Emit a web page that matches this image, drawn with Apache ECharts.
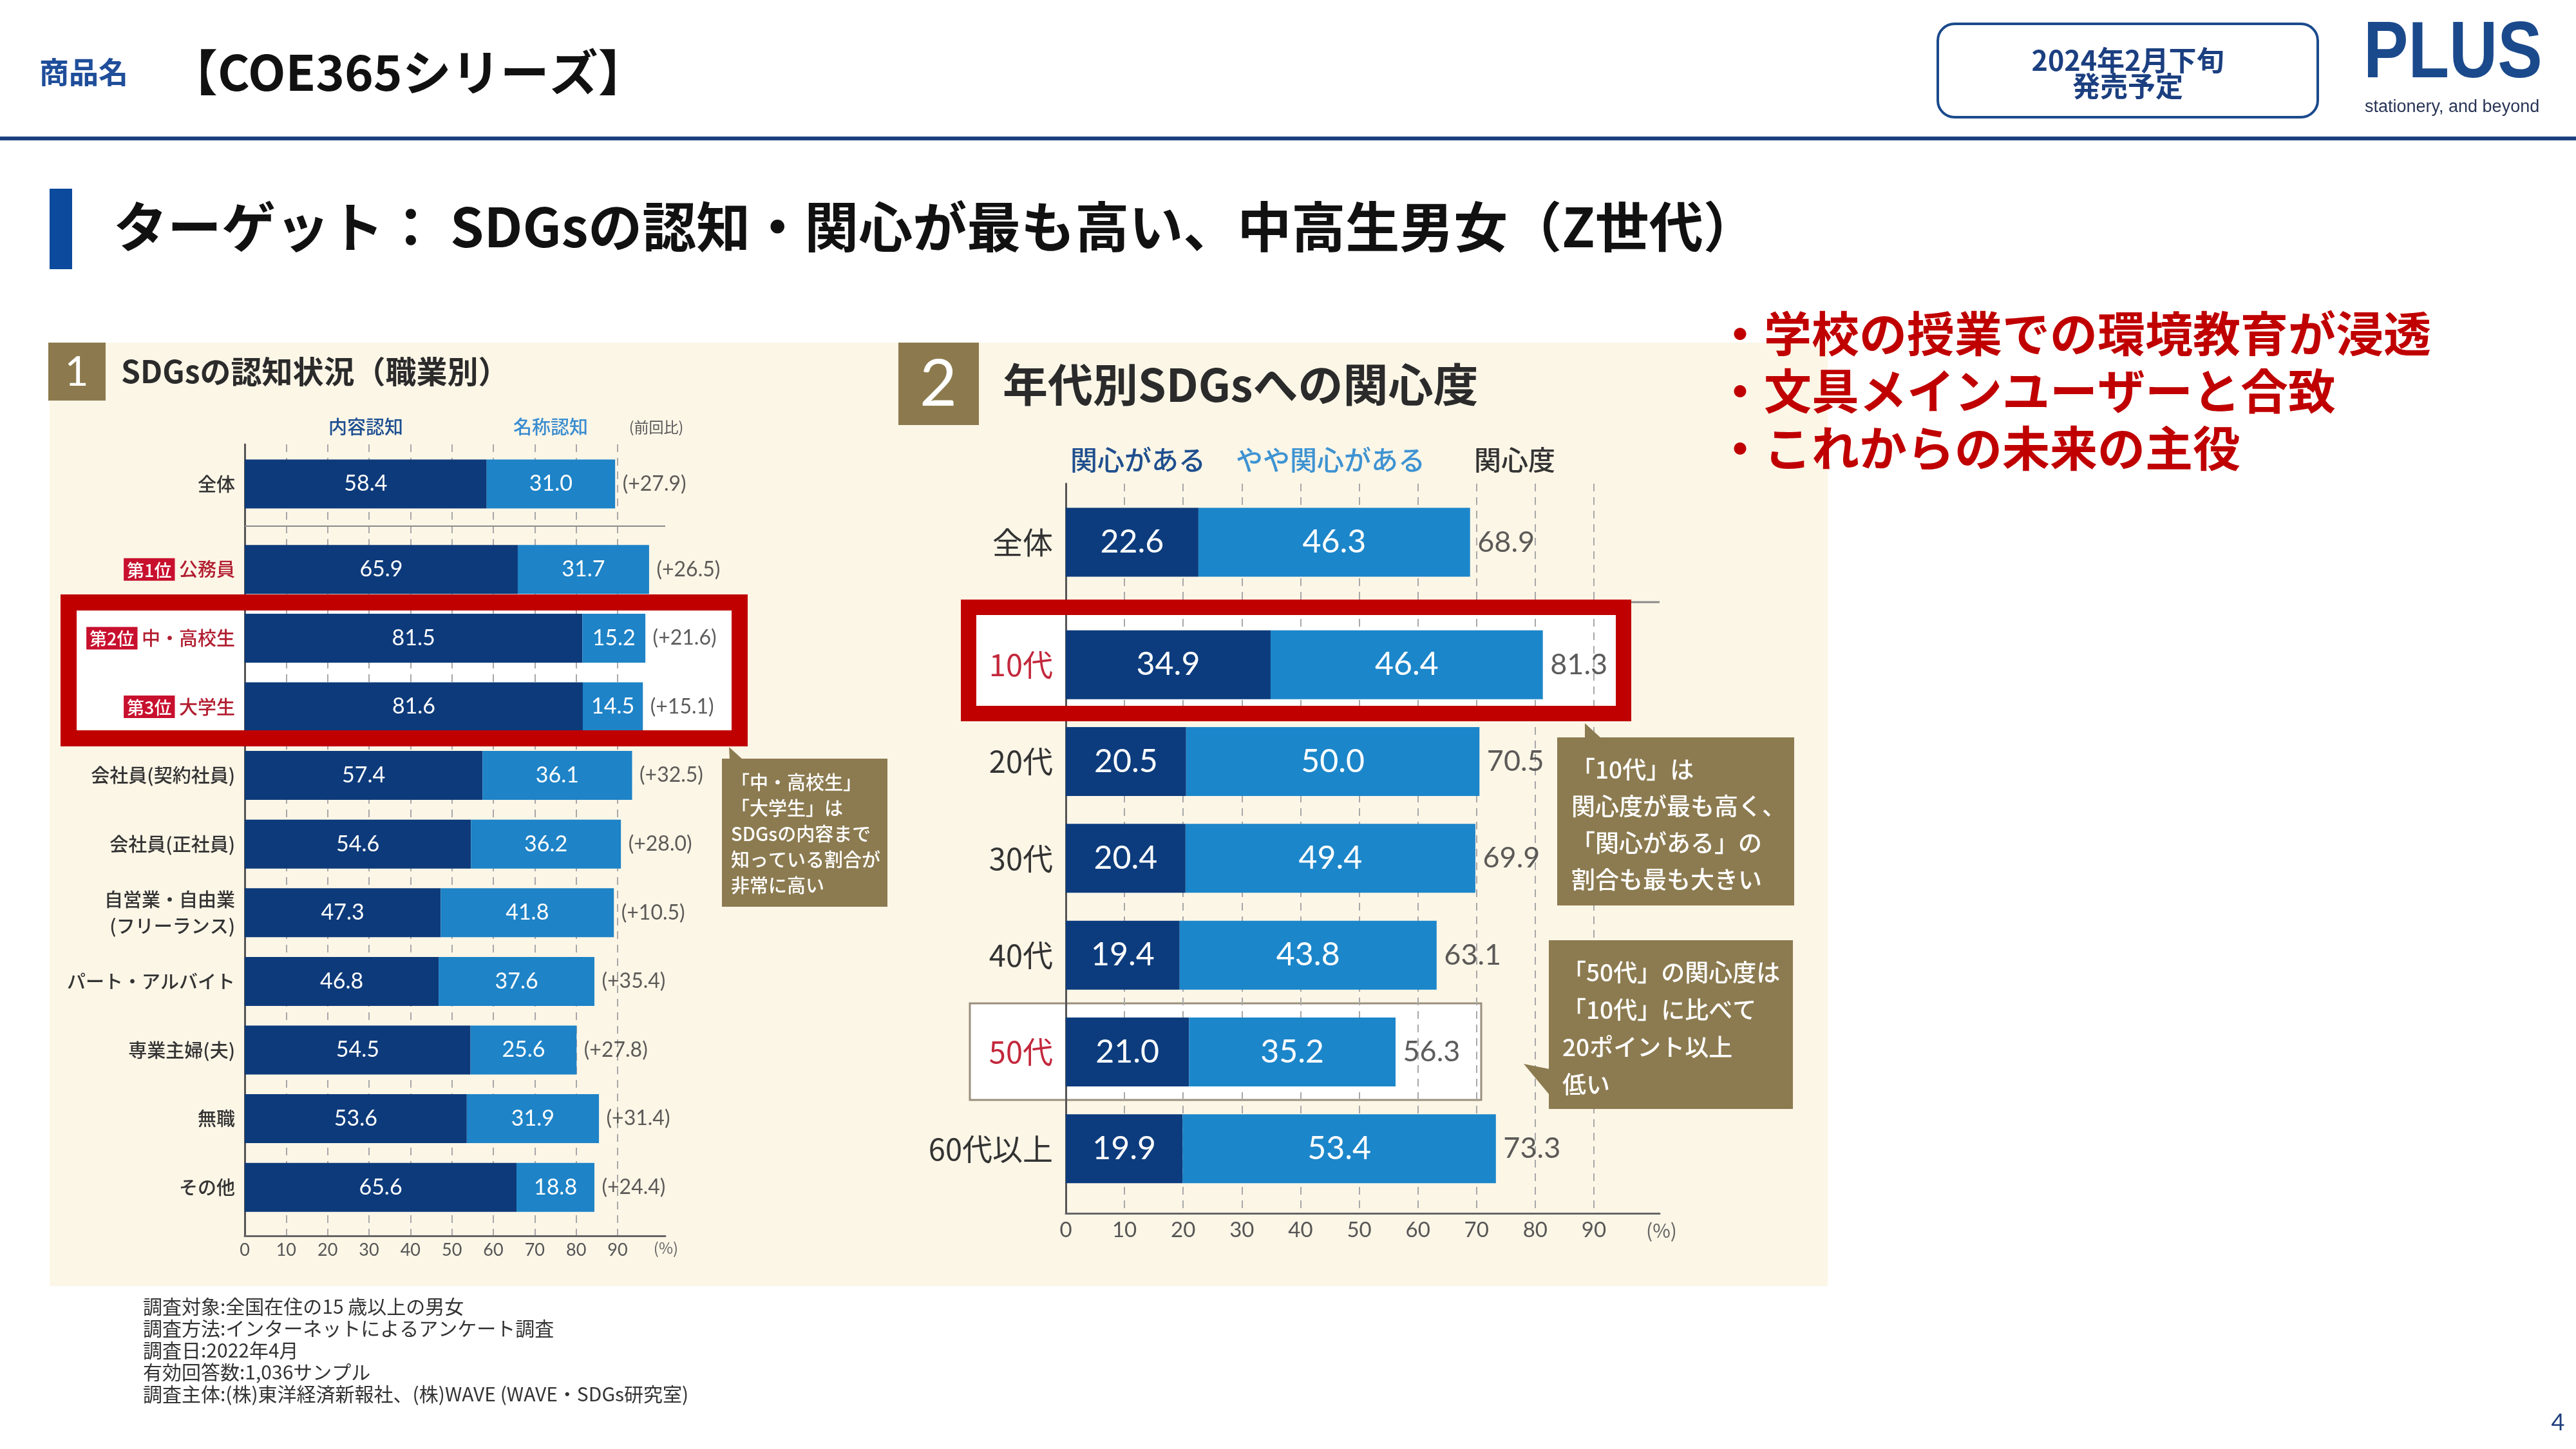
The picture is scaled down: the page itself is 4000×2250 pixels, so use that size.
<!DOCTYPE html>
<html><head><meta charset="utf-8">
<script src="https://cdn.jsdelivr.net/npm/echarts@6/dist/echarts.min.js"></script>
<style>html,body{margin:0;padding:0;background:#fff}#c{width:4000px;height:2250px}</style>
</head><body><div id="c"></div>
<script>
// ---------- data ----------
const jobCategories = ['全体','公務員','中・高校生','大学生','会社員(契約社員)','会社員(正社員)','自営業・自由業\n(フリーランス)','パート・アルバイト','専業主婦(夫)','無職','その他'];
const jobRanks = ['','第1位','第2位','第3位','','','','','','',''];
const contentAware = [58.4, 65.9, 81.5, 81.6, 57.4, 54.6, 47.3, 46.8, 54.5, 53.6, 65.6];
const nameAware = [31.0, 31.7, 15.2, 14.5, 36.1, 36.2, 41.8, 37.6, 25.6, 31.9, 18.8];
const prevDiff = ['+27.9','+26.5','+21.6','+15.1','+32.5','+28.0','+10.5','+35.4','+27.8','+31.4','+24.4'];

const ageCategories = ['全体','10代','20代','30代','40代','50代','60代以上'];
const interested = [22.6, 34.9, 20.5, 20.4, 19.4, 21.0, 19.9];
const somewhatInterested = [46.3, 46.4, 50.0, 49.4, 43.8, 35.2, 53.4];
const interestLevel = [68.9, 81.3, 70.5, 69.9, 63.1, 56.3, 73.3];
const highlightAges = ['10代','50代'];

const axisTicks = [0,10,20,30,40,50,60,70,80,90];

// ---------- style ----------
const FJP = "'Noto Sans CJK JP', sans-serif";
const FNUM = "Lato, 'Noto Sans CJK JP', sans-serif";
const DARK = '#0d3a7a', LIGHT = '#1e83c7';
const DARK2 = '#0c3c7d', LIGHT2 = '#1c86ca';
const NONE = 'rgba(0,0,0,0)';
// dashed guide lines only at the labelled ticks 10..90 (hidden at 0, 100 and the axis end)
const splitColors = [NONE].concat(axisTicks.slice(1).map(() => '#a8a8a8')).concat([NONE, NONE]);

const chart = echarts.init(document.getElementById('c'), null, {renderer:'canvas', width:4000, height:2250});

const grids = [
  {left:380, top:690, width:653, height:1229},
  {left:380, top:698, width:653, height:107},
  {left:380, top:831, width:653, height:1066},
  {left:1655, top:751, width:922, height:1133},
  {left:1655, top:767, width:922, height:150},
  {left:1655, top:957, width:922, height:902}
].map(g => Object.assign({outerBoundsMode:'none', containLabel:false}, g));

function xAx(gi, max, show, fs, margin) {
  if (!show) return {type:'value', gridIndex:gi, min:0, max:max, interval:10, show:false};
  return {type:'value', gridIndex:gi, min:0, max:max, interval:10,
    axisLine:{show:true, onZero:false, lineStyle:{color:'#666', width:3}},
    axisTick:{show:false},
    splitLine:{show:true, lineStyle:{type:[12,9], width:2, color:splitColors}},
    axisLabel:{show:true, fontSize:fs, color:'#555', fontFamily:FNUM, margin:margin,
      formatter: v => (v <= 90 ? String(v) : '')}};
}
function frameY(gi) {
  return {type:'value', gridIndex:gi, min:0, max:1,
    axisLine:{show:true, onZero:false, lineStyle:{color:'#555', width:3}},
    axisTick:{show:false}, axisLabel:{show:false}, splitLine:{show:false}};
}
const jobLabel = {
  show:true, margin:15, color:'#333', fontSize:29, lineHeight:41, fontFamily:FJP,
  formatter: function (v) {
    const r = jobRanks[jobCategories.indexOf(v)];
    if (r) return '{b|' + r + '} {r|' + v + '}';
    return v.split('\n').map(s => '{n|' + s + '}').join('\n');
  },
  rich: {
    b:{backgroundColor:'#c8102e', color:'#fff', fontSize:27, padding:[5,5,3,5], fontFamily:FJP, fontWeight:500},
    r:{color:'#b21e30', fontSize:29, fontFamily:FJP, fontWeight:500},
    n:{color:'#333', fontSize:29, lineHeight:41, fontFamily:FJP, fontWeight:500}
  }
};
const ageLabel = {
  show:true, margin:20, fontSize:47, fontFamily:FJP, color:'#333',
  formatter: v => highlightAges.indexOf(v) >= 0 ? '{h|' + v + '}' : '{n|' + v + '}',
  rich: {h:{color:'#c3283c', fontSize:47, fontFamily:FJP}, n:{color:'#333', fontSize:47, fontFamily:FJP}}
};
function catY(gi, data, label) {
  return {type:'category', gridIndex:gi, data:data, inverse:true,
    axisLine:{show:false}, axisTick:{show:false}, splitLine:{show:false}, axisLabel:label};
}

const xAxes = [xAx(0, 101.5, true, 27, 9), xAx(1, 101.5, false), xAx(2, 101.5, false),
               xAx(3, 101.2, true, 33, 10), xAx(4, 101.2, false), xAx(5, 101.2, false)];
const yAxes = [frameY(0), catY(1, jobCategories.slice(0,1), jobLabel), catY(2, jobCategories.slice(1), jobLabel),
               frameY(3), catY(4, ageCategories.slice(0,1), ageLabel), catY(5, ageCategories.slice(1), ageLabel)];

const series = [];
function addBars(ai, cats, a, b, dark, light, bw, fs, endFs, endText) {
  const lab = {show:true, position:'inside', color:'#fff', fontSize:fs, fontFamily:FNUM, formatter: p => p.value.toFixed(1)};
  series.push({type:'bar', name:'a'+ai, xAxisIndex:ai, yAxisIndex:ai, stack:'s'+ai, barWidth:bw, data:a, itemStyle:{color:dark}, label:lab, z:20});
  series.push({type:'bar', name:'b'+ai, xAxisIndex:ai, yAxisIndex:ai, stack:'s'+ai, barWidth:bw, data:b, itemStyle:{color:light}, label:lab, z:20});
  series.push({type:'scatter', xAxisIndex:ai, yAxisIndex:ai, symbolSize:1, itemStyle:{color:NONE}, z:21,
    data: cats.map((c,i) => [a[i] + b[i], c]),
    label:{show:true, position:'right', distance:11, color:'#333', fontSize:endFs, fontFamily:FNUM,
      formatter: p => endText[p.dataIndex]}});
}
addBars(1, jobCategories.slice(0,1), contentAware.slice(0,1), nameAware.slice(0,1), DARK, LIGHT, 76, 34, 32, prevDiff.slice(0,1).map(s => '(' + s + ')'));
addBars(2, jobCategories.slice(1), contentAware.slice(1), nameAware.slice(1), DARK, LIGHT, 76, 34, 32, prevDiff.slice(1).map(s => '(' + s + ')'));
addBars(4, ageCategories.slice(0,1), interested.slice(0,1), somewhatInterested.slice(0,1), DARK2, LIGHT2, 107, 50, 45, interestLevel.slice(0,1).map(v => v.toFixed(1)));
addBars(5, ageCategories.slice(1), interested.slice(1), somewhatInterested.slice(1), DARK2, LIGHT2, 107, 50, 45, interestLevel.slice(1).map(v => v.toFixed(1)));

// ---------- decorations ----------
const G = [];
function R(x,y,w,h,fill,z,extra){ G.push(Object.assign({type:'rect', z:z, silent:true, shape:{x:x,y:y,width:w,height:h}, style:{fill:fill}}, extra||{})); }
function T(x,y,txt,fs,color,opt){
  opt = opt || {};
  const el = {type:'text', z: opt.z == null ? 30 : opt.z, silent:true, x:x, y:y,
    style:{text:txt, fontSize:fs, fontFamily:opt.ff || FJP, fontWeight:opt.fw || 'normal', fill:color,
      align:opt.align || 'left', textAlign:opt.align || 'left',
      verticalAlign:opt.va || 'middle', textVerticalAlign:opt.va || 'middle', lineHeight:opt.lh}};
  if (opt.sx) el.scaleX = opt.sx;
  G.push(el);
}
function POLY(pts, fill, z){ G.push({type:'polygon', z:z, silent:true, shape:{points:pts}, style:{fill:fill}}); }

// header
T(61, 112, '商品名', 46, '#1f4e9a', {fw:'bold'});
T(262, 112, '【COE365シリーズ】', 76, '#111', {fw:'bold'});
G.push({type:'rect', z:30, silent:true, shape:{x:3009, y:37, width:590, height:145, r:26}, style:{fill:'#fff', stroke:'#1b4a8c', lineWidth:4}});
T(3304, 94, '2024年2月下旬', 43, '#1b3f80', {fw:'bold', align:'center'});
T(3304, 134, '発売予定', 43, '#1b3f80', {fw:'bold', align:'center'});
T(3670, 86, 'PLUS', 124, '#1b4a8c', {fw:'bold', ff:"'Liberation Sans Narrow', 'Liberation Sans', sans-serif", sx:0.84});
T(3672, 167, 'stationery, and beyond', 27, '#2a3556', {ff:"'Liberation Sans Narrow', 'Liberation Sans', sans-serif"});
R(0, 212, 4000, 6, '#1b3f80', 30);

// title
R(77, 293, 35, 125, '#0b4a9c', 30);
T(176, 352, 'ターゲット： SDGsの認知・関心が最も高い、中高生男女（Z世代）', 84, '#111', {fw:'bold'});

// bullet text
T(2665, 518, '・学校の授業での環境教育が浸透', 74, '#c00000', {fw:'bold'});
T(2665, 607, '・文具メインユーザーと合致', 74, '#c00000', {fw:'bold'});
T(2665, 696, '・これからの未来の主役', 74, '#c00000', {fw:'bold'});

// panel background
R(77, 532, 2761, 1465, '#fcf6e7', -10);

// panel 1 title
R(75, 532, 89, 90, '#8c7a4e', 30);
T(119, 578, '1', 64, '#fff', {align:'center', ff:FNUM});
T(188, 577, 'SDGsの認知状況（職業別）', 48, '#2b2b2b', {fw:'bold'});
T(568, 663, '内容認知', 29, '#1d4f91', {align:'center', fw:500});
T(855, 663, '名称認知', 29, '#3a8dd0', {align:'center', fw:500});
T(1019, 663, '(前回比)', 23, '#555', {align:'center'});

// panel 2 title
R(1395, 532, 125, 128, '#8c7a4e', 30);
T(1457, 598, '2', 100, '#fff', {align:'center', ff:FNUM});
T(1557, 597, '年代別SDGsへの関心度', 70, '#2b2b2b', {fw:'bold'});
T(1767, 714, '関心がある', 42, '#1f4f8e', {align:'center', fw:500});
T(2066, 714, 'やや関心がある', 42, '#3e93d2', {align:'center', fw:500});
T(2352, 714, '関心度', 42, '#333', {align:'center', fw:500});

// separators
G.push({type:'line', z:5, silent:true, shape:{x1:380, y1:817, x2:1033, y2:817}, style:{stroke:'#8a8a8a', lineWidth:2}});
G.push({type:'line', z:5, silent:true, shape:{x1:1655, y1:935, x2:2577, y2:935}, style:{stroke:'#8a8a8a', lineWidth:3}});

// highlight boxes
R(94, 923, 1067, 236, '#ffffff', -5);
G.push({type:'rect', z:40, silent:true, shape:{x:106.5, y:935.5, width:1042, height:211}, style:{fill:null, stroke:'#c00000', lineWidth:25}});
R(1492, 931, 1041, 189, '#ffffff', -5);
G.push({type:'rect', z:40, silent:true, shape:{x:1504, y:943, width:1017, height:165}, style:{fill:null, stroke:'#c00000', lineWidth:24}});
G.push({type:'rect', z:-4, silent:true, shape:{x:1506, y:1558, width:794, height:150}, style:{fill:'#ffffff', stroke:'#9a8f7e', lineWidth:3}});

// axis unit labels
T(1034, 1938, '(%)', 24, '#666', {align:'center'});
T(2580, 1911, '(%)', 30, '#666', {align:'center'});

// callouts
const BOX = '#8c7b50';
R(1121, 1178, 257, 230, BOX, 30);
POLY([[1132,1160],[1133,1179],[1153,1179]], BOX, 30);
T(1135, 1195, '「中・高校生」\n「大学生」は\nSDGsの内容まで\n知っている割合が\n非常に高い', 29, '#fff', {va:'top', lh:40, z:31, fw:500});

R(2418, 1145, 368, 261, BOX, 30);
POLY([[2461,1123],[2461,1146],[2486,1146]], BOX, 30);
T(2440, 1166, '「10代」は\n関心度が最も高く、\n「関心がある」の\n割合も最も大きい', 37, '#fff', {va:'top', lh:57, z:31, fw:500});

R(2405, 1460, 379, 262, BOX, 30);
POLY([[2366,1652],[2406,1660],[2406,1700]], BOX, 30);
T(2426, 1481, '「50代」の関心度は\n「10代」に比べて\n20ポイント以上\n低い', 37, '#fff', {va:'top', lh:58, z:31, fw:500});

// footnotes
const notes = ['調査対象:全国在住の15 歳以上の男女','調査方法:インターネットによるアンケート調査','調査日:2022年4月','有効回答数:1,036サンプル','調査主体:(株)東洋経済新報社、(株)WAVE (WAVE・SDGs研究室)'];
notes.forEach((s,i) => T(222, 2029 + i*34, s, 30, '#333'));

// page number
T(3972, 2209, '4', 36, '#1f3e7c', {align:'center', ff:FNUM});

chart.setOption({
  animation:false,
  backgroundColor:'#ffffff',
  grid:grids, xAxis:xAxes, yAxis:yAxes, series:series,
  graphic:{elements:G}
});
</script></body></html>
